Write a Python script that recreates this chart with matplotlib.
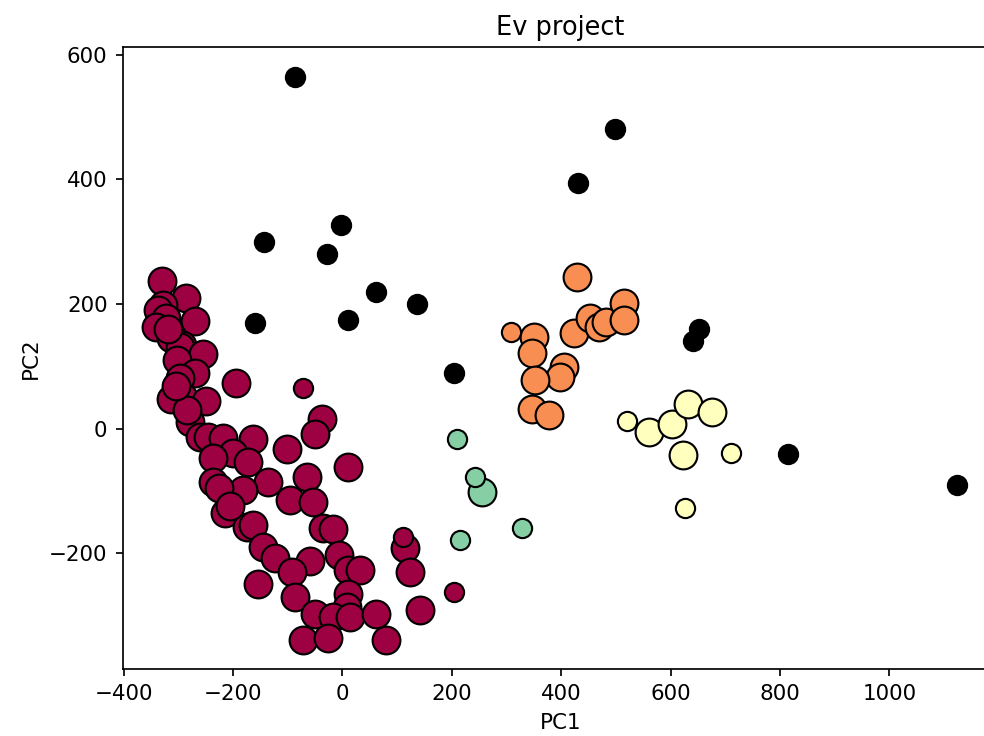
import numpy as np
import matplotlib
matplotlib.use("Agg")
import matplotlib.pyplot as plt

# cluster 0 (dark red) - core samples
red_core_x = [-330, -286, -328, -337, -270, -322, -340, -313, -294, -297, -255, -303, -270, -297,
              -194, -291, -313, -249, -279, -261, -246, -218, -163, -102, -38, -50, -200, -236,
              -172, 11, -65, -136, -236, -206, -181, -96, -53, -215, -175, -163, -35, -17, -145,
              -123, -59, -7, -93, 11, 32, 115, 124, -154, -87, 11, 8, -50, -17, 14, 62, 142,
              -72, -26, 80, -285, -305, -318, -226, -205]
red_core_y = [237, 209, 198, 190, 173, 177, 163, 146, 134, 131, 120, 110, 89, 81,
              73, 51, 48, 45, 11, -13, -13, -15, -17, -33, 16, -8, -40, -48,
              -53, -62, -78, -86, -85, -110, -99, -115, -118, -136, -158, -155, -160, -162, -190,
              -208, -213, -203, -230, -227, -227, -192, -231, -249, -270, -265, -286, -297, -302, -302, -298, -292,
              -340, -337, -340, 30, 68, 160, -95, -125]
red_edge_x = [-72, 111, 204]
red_edge_y = [65, -174, -263]

# cluster 1 (orange)
orange_core_x = [429, 350, 347, 423, 453, 469, 481, 514, 514, 405, 398, 353, 347, 377]
orange_core_y = [244, 147, 121, 153, 177, 163, 171, 201, 174, 99, 83, 78, 32, 22]
orange_edge_x = [308]
orange_edge_y = [155]

# cluster 2 (light yellow)
yellow_core_x = [560, 603, 631, 676, 622]
yellow_core_y = [-5, 8, 40, 27, -42]
yellow_edge_x = [521, 711, 626]
yellow_edge_y = [12, -39, -127]

# cluster 3 (green)
green_core_x = [255]
green_core_y = [-102]
green_edge_x = [210, 243, 215, 328]
green_edge_y = [-17, -77, -179, -159]

# noise
noise_x = [-87, 498, 431, -3, -143, -29, 61, 136, 11, -160, 652, 641, 204, 815, 1124]
noise_y = [565, 481, 394, 326, 300, 280, 219, 200, 174, 169, 160, 141, 90, -41, -91]

clusters = [
    (red_core_x, red_core_y, red_edge_x, red_edge_y),
    (orange_core_x, orange_core_y, orange_edge_x, orange_edge_y),
    (yellow_core_x, yellow_core_y, yellow_edge_x, yellow_edge_y),
    (green_core_x, green_core_y, green_edge_x, green_edge_y),
]
colors = [plt.cm.Spectral(each) for each in np.linspace(0, 1, 5)]

fig = plt.figure(figsize=(6.4, 736 / 153.75), dpi=153.75)
ax = fig.add_axes([0.1245, 0.091, 0.89, 0.8447])

for (cx, cy, ex, ey), col in zip(clusters, colors):
    ax.plot(cx, cy, 'o', markerfacecolor=tuple(col), markeredgecolor='k', markersize=13)
    ax.plot(ex, ey, 'o', markerfacecolor=tuple(col), markeredgecolor='k', markersize=9)

ax.plot(noise_x, noise_y, 'o', markerfacecolor='k', markeredgecolor='k', markersize=9)

ax.set_xlim(-402, 1199)
ax.set_ylim(-386, 612)
ax.set_xticks([-400, -200, 0, 200, 400, 600, 800, 1000])
ax.set_yticks([-200, 0, 200, 400, 600])
ax.spines['right'].set_visible(False)
ax.set_xlabel('PC1')
ax.set_ylabel('PC2')
ax.set_title('Ev project')

fig.savefig('out.png', dpi=153.75)
